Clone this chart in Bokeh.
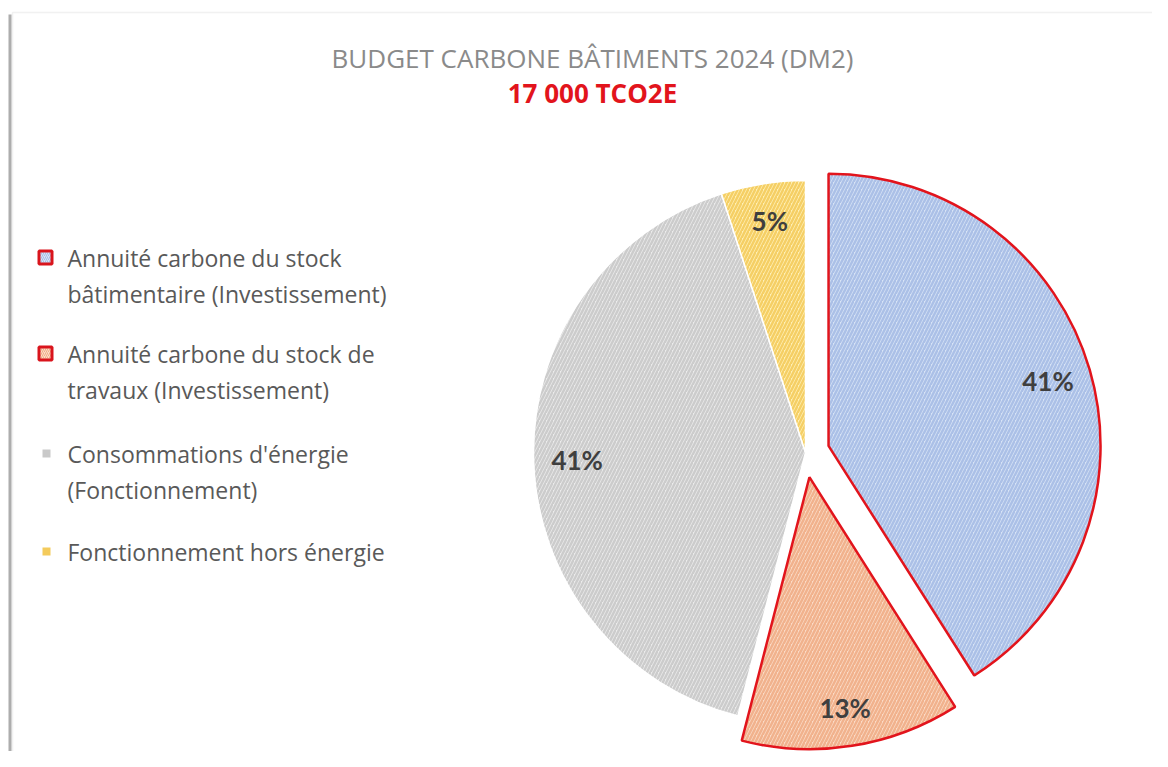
import math
from bokeh.plotting import figure
from bokeh.models import Range1d, ColumnDataSource, BoxAnnotation
from bokeh.core.properties import value
from bokeh.embed import file_html
from bokeh.resources import INLINE

# ---- data ----
categories = [
    "Annuité carbone du stock bâtimentaire (Investissement)",
    "Annuité carbone du stock de travaux (Investissement)",
    "Consommations d'énergie (Fonctionnement)",
    "Fonctionnement hors énergie",
]
legend_lines = [
    ["Annuité carbone du stock", "bâtimentaire (Investissement)"],
    ["Annuité carbone du stock de", "travaux (Investissement)"],
    ["Consommations d'énergie", "(Fonctionnement)"],
    ["Fonctionnement hors énergie"],
]
shares = [41, 13, 41, 5]
title_main = "BUDGET CARBONE BÂTIMENTS 2024 (DM2)"
title_sub = "17 000 TCO2E"

# ---- styles ----
fills = ["#d8e4f6", "#fbdcc8", "#ececec", "#fff1b8"]
hatches = ["#a6bde6", "#f0ad86", "#c9c9c9", "#f4cb5c"]
edges = ["#e2141c", "#e2141c", "#ffffff", "#ffffff"]
edge_w = [2.5, 2.5, 1.5, 1.5]
explode = [24, 25, 0, 0]
legend_marker_size = [13, 13, 8, 8]
legend_marker_edge = ["#d9141c", "#d9141c", None, None]

W, H = 1152, 751
PAGE_H = 767

def Y(py):
    return PAGE_H - py

p = figure(width=W, height=H, output_backend="svg", toolbar_location=None,
           x_range=Range1d(0, W), y_range=Range1d(Y(H), Y(0)),
           min_border=0)
p.axis.visible = False
p.grid.visible = False
p.outline_line_color = None
p.background_fill_color = "white"

# frame of the original picture (with shadow)
p.add_layout(BoxAnnotation(left=12, right=3000, top=Y(12), bottom=-2000,
                           fill_color=None, line_color="#cfcfcf", line_width=1.5))
p.add_layout(BoxAnnotation(left=8, right=11, top=Y(14), bottom=-2000,
                           fill_color="#8a8a8a", fill_alpha=0.7, line_color=None))

# ---- pie ----
cx, cy = 805, Y(452)
R = 272
total = sum(shares)
cum = 0
xs, ys, starts, ends, lx, ly, labels = [], [], [], [], [], [], []
for i, s in enumerate(shares):
    a1 = cum / total * 2 * math.pi
    a2 = (cum + s) / total * 2 * math.pi
    mid = (a1 + a2) / 2
    ox = cx + explode[i] * math.sin(mid)
    oy = cy + explode[i] * math.cos(mid)
    xs.append(ox)
    ys.append(oy)
    starts.append(math.pi / 2 - a1)
    ends.append(math.pi / 2 - a2)
    lx.append(ox + 0.84 * R * math.sin(mid))
    ly.append(oy + 0.86 * R * math.cos(mid))
    labels.append(f"{s}%")
    cum += s

src = ColumnDataSource(dict(x=xs, y=ys, start=starts, end=ends, fill=fills,
                            hatch=hatches, edge=edges, ew=edge_w))
p.wedge(x="x", y="y", radius=R, radius_units="screen", start_angle="start",
        end_angle="end", direction="clock", source=src,
        fill_color="fill", line_color="edge", line_width="ew",
        hatch_pattern="/", hatch_color="hatch", hatch_scale=7, hatch_weight=2.5,
        hatch_alpha=0.9)

p.text(x=lx, y=ly, text=labels, text_align="center", text_baseline="middle",
       text_font=value("Lato"), text_font_size="26px", text_font_style="bold",
       text_color="#3f3f3f")

# ---- titles ----
p.text(x=[592], y=[Y(57)], text=[title_main], text_align="center",
       text_baseline="middle", text_font=value("Open Sans"),
       text_font_size="26px", text_color="#8a8a8a")
p.text(x=[592], y=[Y(92)], text=[title_sub], text_align="center",
       text_baseline="middle", text_font=value("Open Sans"),
       text_font_size="26px", text_font_style="bold", text_color="#e2141c")

# ---- legend ----
row_y = [257, 353, 453, 551]
line_gap = 36
for i, lines in enumerate(legend_lines):
    yy = row_y[i]
    if legend_marker_edge[i]:
        p.scatter(x=[45], y=[Y(yy)], marker="square", size=legend_marker_size[i],
                  fill_color=fills[i], line_color=legend_marker_edge[i], line_width=3,
                  hatch_pattern="/", hatch_color=hatches[i], hatch_scale=4)
    else:
        p.scatter(x=[46], y=[Y(yy)], marker="square", size=legend_marker_size[i],
                  fill_color=hatches[i], line_color=None)
    for j, t in enumerate(lines):
        p.text(x=[67], y=[Y(yy + j * line_gap)], text=[t], text_align="left",
               text_baseline="middle", text_font=value("Open Sans"),
               text_font_size="23px", text_color="#595959")

open("out.html", "w").write(file_html(p, INLINE))
